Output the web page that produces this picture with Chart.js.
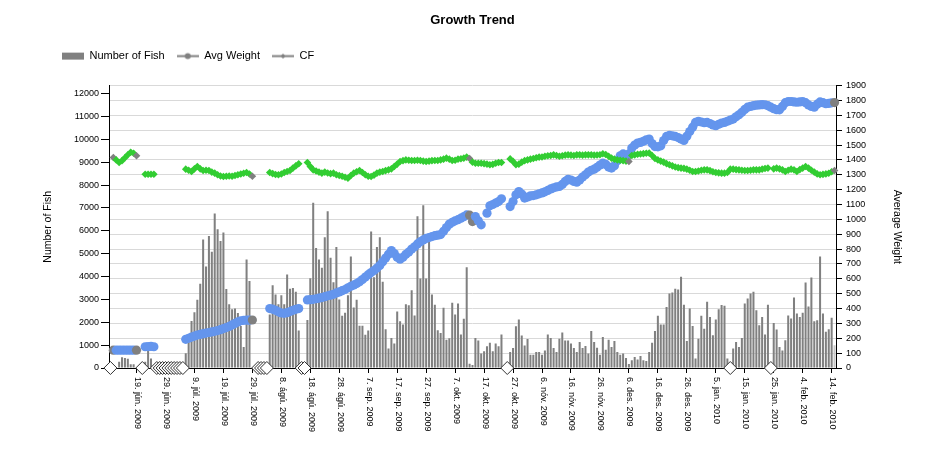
<!DOCTYPE html>
<html>
<head>
<meta charset="utf-8">
<title>Growth Trend</title>
<script src="https://cdn.jsdelivr.net/npm/chart.js@4.4.0/dist/chart.umd.min.js"></script>
<style>
  html, body { margin: 0; padding: 0; background: #fff; }
  #wrap { width: 936px; height: 461px; }
</style>
</head>
<body>
<div id="wrap"><canvas id="growthChart" width="936" height="461"></canvas></div>
<script>
// days from 10. jún. 2009 to 15. feb. 2010
const monthNames = ['jan.', 'feb.', 'mar.', 'apr.', 'maí', 'jún.', 'júl.', 'ágú.', 'sep.', 'okt.', 'nóv.', 'des.'];
const firstDay = Date.UTC(2009, 5, 10);
const dayLabels = [];
for (let i = 0; i < 251; i++) {
    const d = new Date(firstDay + i * 86400000);
    dayLabels.push(`${d.getUTCDate()}. ${monthNames[d.getUTCMonth()]} ${d.getUTCFullYear()}`);
}

const tickLabels = [
    '19. jún. 2009', '29. jún. 2009', '9. júl. 2009', '19. júl. 2009', '29. júl. 2009',
    '8. ágú. 2009', '18. ágú. 2009', '28. ágú. 2009', '7. sep. 2009', '17. sep. 2009',
    '27. sep. 2009', '7. okt. 2009', '17. okt. 2009', '27. okt. 2009', '6. nóv. 2009',
    '16. nóv. 2009', '26. nóv. 2009', '6. des. 2009', '16. des. 2009', '26. des. 2009',
    '5. jan. 2010', '15. jan. 2010', '25. jan. 2010', '4. feb. 2010', '14. feb. 2010'
];

const fishTicks = [0, 1000, 2000, 3000, 4000, 5000, 6000, 7000, 8000, 9000, 10000, 11000, 12000];
const weightTicks = [0, 100, 200, 300, 400, 500, 600, 700, 800, 900, 1000,
    1100, 1200, 1300, 1400, 1500, 1600, 1700, 1800, 1900];

const numberOfFish = [
    null, null, null, 275, 470, 440, 400, 160, 160, null,
    null, null, 275, 800, 420, null, null, null, null, null,
    null, null, null, null, null, null, 640, 1150, 2050, 2440,
    2990, 3680, 5620, 4440, 5770, 5080, 6760, 6070, 5550, 5930,
    3450, 2790, 2570, 2600, 2400, 1840, 920, 4750, 3810, null,
    null, null, null, null, null, 2340, 3620, 3210, 2790, 3180,
    2790, 4090, 3470, 3500, 3330, 1640, null, null, 2100, 3930,
    7230, 5250, 4750, 4380, 5720, 6850, 4820, 3750, 5290, 3000,
    2290, 2420, 3180, 4880, 2650, 2980, 1850, 1850, 1450, 1640,
    5970, 3970, 5290, 5720, 3770, 1690, 850, 1310, 1070, 2470,
    2040, 1900, 2790, 2740, 3400, 2300, 6640, 3910, 7120, 3910,
    5740, 3210, 2770, 1650, 1530, 2630, 1240, 1300, 2850, 2340,
    2820, 1460, 2150, 4410, 190, 130, 1310, 1200, 630, 730,
    950, 1100, 730, 1070, 950, 1460, null, null, 700, 880,
    1830, 2120, 1420, 980, 1270, 580, 580, 700, 700, 580,
    760, 1460, 1310, 880, 700, 1280, 1550, 1200, 1200, 1070,
    880, 700, 1140, 880, 960, 630, 1620, 1140, 890, 580,
    1360, 800, 1230, 920, 1180, 700, 580, 630, 440, 175,
    340, 480, 370, 530, 340, 310, 700, 1100, 1620, 2280,
    1900, 1900, 2670, 3260, 3300, 3470, 3430, 3990, 2770, 1180,
    2600, 1840, 410, 1280, 2290, 1720, 2900, 2230, 1430, 2120,
    2570, 2760, 2720, 410, null, 850, 1140, 920, 1310, 2820,
    3040, 3260, 3330, 2530, 1870, 2230, 1460, 2770, null, 1970,
    1680, 920, 770, 1210, 2300, 2160, 3080, 2380, 2230, 2420,
    3740, 2690, 3960, 2040, 2090, 4880, 2380, 1580, 1690, 2200,
    1000
];

const avgWeight = [
    null, 120, 120, 120, 120, 120, 120, 120, 120, 120,
    null, null, 143, 144, 145, 143, null, null, null, null,
    null, null, null, null, null, null, 193, 200, 208, 215,
    222, 226, 231, 235, 239, 243, 247, 252, 258, 265,
    272, 280, 290, 300, 310, 318, 321, 322, 322, 323,
    null, null, null, null, null, 400, 396, 388, 378, 370,
    368, 372, 380, 388, 395, 400, null, null, 458, 460,
    462, 466, 470, 474, 480, 486, 490, 496, 505, 512,
    520, 528, 540, 550, 558, 568, 580, 595, 612, 628,
    642, 656, 672, 690, 715, 740, 765, 790, 770, 745,
    732, 745, 765, 780, 800, 815, 835, 850, 862, 872,
    878, 884, 890, 894, 898, 920, 945, 968, 980, 990,
    998, 1008, 1018, 1030, 1028, 985, 1019, 990, 963, null,
    1042, 1091, 1100, 1110, 1120, 1138, null, null, 1086, 1120,
    1165, 1187, 1170, 1143, 1150, 1158, 1160, 1165, 1172, 1178,
    1185, 1195, 1205, 1212, 1218, 1221, 1235, 1255, 1270, 1265,
    1255, 1250, 1265, 1285, 1300, 1318, 1330, 1338, 1350, 1365,
    1378, 1370, 1352, 1345, 1360, 1395, 1428, 1440, 1430, 1440,
    1480, 1500, 1513, 1518, 1525, 1535, 1540, 1510, 1490, 1488,
    1495, 1530, 1558, 1565, 1562, 1558, 1550, 1540, 1531, 1560,
    1591, 1620, 1652, 1660, 1655, 1650, 1652, 1645, 1635, 1630,
    1640, 1648, 1652, 1660, 1668, 1675, 1690, 1704, 1720, 1740,
    1755, 1760, 1765, 1768, 1770, 1772, 1771, 1765, 1755, 1745,
    1738, 1737, 1760, 1785, 1793, 1793, 1790, 1788, 1790, 1793,
    1785, 1770, 1760, 1755, 1775, 1790, 1785, 1778, 1780, 1784,
    1786
];

const conditionFactor = [
    null, 1.416, 1.400, 1.383, 1.395, 1.415, 1.435, 1.452, 1.445, 1.428,
    null, null, 1.304, 1.304, 1.304, 1.304, null, null, null, null,
    null, null, null, null, null, null, 1.338, 1.330, 1.322, 1.340,
    1.356, 1.340, 1.329, 1.330, 1.329, 1.318, 1.311, 1.300, 1.292, 1.288,
    1.290, 1.292, 1.290, 1.295, 1.300, 1.305, 1.310, 1.315, 1.305, 1.290,
    null, null, null, null, null, 1.315, 1.308, 1.302, 1.300, 1.305,
    1.315, 1.322, 1.329, 1.345, 1.360, 1.374, null, null, 1.383, 1.355,
    1.333, 1.325, 1.318, 1.311, 1.318, 1.312, 1.308, 1.311, 1.300, 1.295,
    1.290, 1.283, 1.277, 1.295, 1.311, 1.320, 1.329, 1.315, 1.300, 1.290,
    1.288, 1.298, 1.311, 1.318, 1.322, 1.328, 1.333, 1.340, 1.356, 1.372,
    1.389, 1.395, 1.400, 1.398, 1.396, 1.396, 1.398, 1.396, 1.392, 1.389,
    1.392, 1.395, 1.396, 1.396, 1.400, 1.405, 1.412, 1.405, 1.396, 1.398,
    1.405, 1.408, 1.412, 1.419, 1.410, 1.385, 1.378, 1.378, 1.378, 1.375,
    1.372, 1.367, 1.370, 1.378, 1.383, 1.383, null, null, 1.407, 1.390,
    1.367, 1.372, 1.385, 1.395, 1.400, 1.405, 1.410, 1.415, 1.419, 1.420,
    1.425, 1.428, 1.430, 1.434, 1.430, 1.425, 1.428, 1.432, 1.434, 1.432,
    1.430, 1.434, 1.434, 1.432, 1.434, 1.434, 1.434, 1.432, 1.433, 1.435,
    1.441, 1.436, 1.425, 1.412, 1.405, 1.400, 1.398, 1.395, 1.392, 1.389,
    1.430, 1.434, 1.438, 1.440, 1.442, 1.445, 1.446, 1.430, 1.410, 1.400,
    1.392, 1.385, 1.375, 1.367, 1.360, 1.352, 1.348, 1.345, 1.343, 1.338,
    1.330, 1.322, 1.322, 1.325, 1.330, 1.333, 1.333, 1.328, 1.320, 1.315,
    1.313, 1.311, 1.311, 1.315, 1.338, 1.338, 1.335, 1.333, 1.330, 1.329,
    1.329, 1.330, 1.333, 1.333, 1.333, 1.338, 1.342, 1.345, null, 1.340,
    1.345, 1.340, 1.333, 1.322, 1.330, 1.338, 1.333, 1.322, 1.335, 1.345,
    1.356, 1.345, 1.330, 1.318, 1.306, 1.300, 1.303, 1.306, 1.310, 1.320,
    1.329
];

// days with an empty diamond marker on the baseline
const markerDays = [0, 11, 16, 17, 18, 19, 20, 21, 22, 23, 24, 25, 51, 52, 53, 54, 66, 67, 137, 214, 228];

// points drawn grey instead of blue / green
const weightGreyDays = [1, 9, 49, 124, 125, 250];
const cfGreyDays = [1, 9, 49, 124, 179, 250];

const GREY = '#808080';
const BLUE = '#6495ED';
const GREEN = '#32CD32';

Chart.defaults.font.family = '"Liberation Sans", Arial, sans-serif';
Chart.defaults.color = '#000';

function legendIcon(kind) {
    const c = document.createElement('canvas');
    c.width = 22;
    c.height = 9;
    const g = c.getContext('2d');
    g.fillStyle = GREY;
    g.strokeStyle = GREY;
    if (kind === 'box') {
        g.fillRect(0, 1, 22, 7);
        return c;
    }
    g.lineWidth = 2;
    g.beginPath();
    g.moveTo(0, 4.5);
    g.lineTo(22, 4.5);
    g.stroke();
    g.beginPath();
    if (kind === 'dot') {
        g.arc(11, 4.5, 3, 0, Math.PI * 2);
    } else {
        g.moveTo(11, 2); g.lineTo(13.5, 4.5); g.lineTo(11, 7); g.lineTo(8.5, 4.5);
    }
    g.fill();
    return c;
}
const legendIcons = [legendIcon('box'), legendIcon('dot'), legendIcon('star')];

// x labels read top-down, so they are drawn here
const dateTickLabels = {
    id: 'dateTickLabels',
    afterDraw(chart) {
        const xs = chart.scales.x;
        const ctx = chart.ctx;
        ctx.save();
        ctx.font = '9px "Liberation Sans", Arial, sans-serif';
        ctx.fillStyle = '#000';
        ctx.textAlign = 'left';
        ctx.textBaseline = 'middle';
        tickLabels.forEach(label => {
            const i = dayLabels.indexOf(label);
            if (i < 0) return;
            ctx.save();
            ctx.translate(xs.getPixelForValue(i) + 1, xs.top + 9);
            ctx.rotate(Math.PI / 2);
            ctx.fillText(label, 0, 0);
            ctx.restore();
        });
        ctx.restore();
    }
};

// a bit more room under the legend, and legend starts further in
const legendSpacing = {
    id: 'legendSpacing',
    beforeLayout(chart) {
        const legend = chart.legend;
        if (legend && !legend._gapPatched) {
            const fit = legend.fit;
            legend.fit = function () {
                fit.call(this);
                this.height += 14;
            };
            legend._gapPatched = true;
        }
    },
    afterLayout(chart) {
        chart.legend.left += 12;
    }
};

const ctx = document.getElementById('growthChart').getContext('2d');
new Chart(ctx, {
    data: {
        labels: dayLabels,
        datasets: [
            {
                type: 'bar',
                label: 'Number of Fish',
                data: numberOfFish,
                yAxisID: 'y',
                backgroundColor: numberOfFish.map((v, i) => i === numberOfFish.length - 1 ? '#c8c8c8' : GREY),
                borderWidth: 0,
                barPercentage: 0.7,
                categoryPercentage: 1,
                order: 4
            },
            {
                type: 'line',
                label: 'Avg Weight',
                data: avgWeight,
                yAxisID: 'y1',
                borderColor: GREY,
                borderWidth: 1,
                pointRadius: 4.6,
                pointBorderWidth: 0,
                pointBackgroundColor: avgWeight.map((v, i) => weightGreyDays.includes(i) ? GREY : BLUE),
                spanGaps: false,
                order: 2
            },
            {
                type: 'line',
                label: 'CF',
                data: conditionFactor,
                yAxisID: 'y2',
                borderColor: GREY,
                borderWidth: 1,
                pointStyle: 'rectRot',
                pointRadius: 3.8,
                pointBorderWidth: 0,
                pointBackgroundColor: conditionFactor.map((v, i) => cfGreyDays.includes(i) ? GREY : GREEN),
                spanGaps: false,
                order: 1
            },
            {
                type: 'line',
                label: 'markers',
                data: dayLabels.map((d, i) => markerDays.includes(i) ? 0 : null),
                yAxisID: 'y',
                showLine: false,
                clip: false,
                pointStyle: 'rectRot',
                pointRadius: 6.5,
                pointBackgroundColor: '#fff',
                pointBorderColor: '#333',
                pointBorderWidth: 1,
                order: 3
            }
        ]
    },
    options: {
        responsive: false,
        animation: false,
        layout: { padding: { left: 38, right: 29, top: 0, bottom: 88 } },
        plugins: {
            title: {
                display: true,
                text: 'Growth Trend',
                font: { size: 13, weight: 'bold' },
                padding: { top: 13, bottom: 10 }
            },
            legend: {
                position: 'top',
                align: 'start',
                labels: {
                    usePointStyle: true,
                    pointStyleWidth: 22,
                    boxHeight: 7,
                    padding: 12,
                    font: { size: 11 },
                    generateLabels(chart) {
                        const items = Chart.defaults.plugins.legend.labels.generateLabels(chart);
                        items.forEach(item => { item.pointStyle = legendIcons[item.datasetIndex]; });
                        return items;
                    },
                    filter: item => item.datasetIndex !== 3,
                    sort: (a, b) => a.datasetIndex - b.datasetIndex
                }
            },
            tooltip: { enabled: false }
        },
        scales: {
            x: {
                offset: true,
                grid: {
                    display: true,
                    drawOnChartArea: false,
                    offset: false,
                    tickLength: 5,
                    tickColor: c => (c.index % 10 === 9 ? '#000' : 'rgba(0,0,0,0)')
                },
                border: { color: '#000' },
                ticks: { display: false, autoSkip: false }
            },
            y: {
                position: 'left',
                min: 0,
                max: 12350,
                afterFit: s => { s.width = 71; },
                afterBuildTicks: s => { s.ticks = fishTicks.map(v => ({ value: v })); },
                ticks: { autoSkip: false, padding: 2, font: { size: 9 }, callback: v => String(v) },
                grid: { drawOnChartArea: false, tickLength: 8, tickColor: '#000', color: '#000' },
                border: { color: '#000' },
                title: { display: true, text: 'Number of Fish', font: { size: 10.5 }, padding: { top: 4, bottom: 4 } }
            },
            y1: {
                position: 'right',
                min: 0,
                max: 1900,
                afterFit: s => { s.width = 71; },
                afterBuildTicks: s => { s.ticks = weightTicks.map(v => ({ value: v })); },
                ticks: { autoSkip: false, padding: 4, font: { size: 9 }, callback: v => String(v) },
                grid: { drawOnChartArea: true, color: '#d9d9d9', tickLength: 6, tickColor: '#000' },
                border: { color: '#000' },
                title: { display: true, text: 'Average Weight', font: { size: 10.5 }, padding: { top: 4, bottom: 4 } }
            },
            y2: {
                display: false,
                min: 0,
                max: 1.9
            }
        }
    },
    plugins: [dateTickLabels, legendSpacing]
});
</script>
</body>
</html>
